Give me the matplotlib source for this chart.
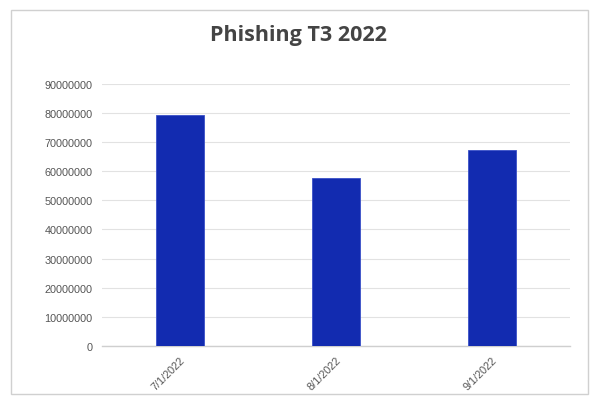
import matplotlib
matplotlib.use("Agg")
import matplotlib.pyplot as plt
from matplotlib.patches import Rectangle

months = ["7/1/2022", "8/1/2022", "9/1/2022"]
phishing = [79100000, 57600000, 67100000]
y_ticks = [0, 10000000, 20000000, 30000000, 40000000, 50000000,
           60000000, 70000000, 80000000, 90000000]

fig = plt.figure(figsize=(6, 4.02), dpi=100)
ax = fig.add_axes([0.17, 0.1368, 0.78, 0.6525])

# outer border of the chart card
fig.patches.append(Rectangle((11 / 600, 1 - 395 / 402), 577 / 600, 384 / 402,
                             transform=fig.transFigure, fill=False,
                             edgecolor="#d0d0d0", linewidth=1.0))

x = range(len(months))
ax.bar(x, phishing, width=0.314, color="#122bb0", edgecolor="#3a50c8", linewidth=0.6, zorder=3)

ax.set_xlim(-0.5, 2.5)
ax.set_ylim(0, 90000000)
ax.set_yticks(y_ticks)
ax.set_yticklabels([str(v) for v in y_ticks])
ax.set_xticks(list(x))
ax.set_xticklabels(months, rotation=45, ha="right", va="top", rotation_mode="anchor")

ax.grid(axis="y", color="#e2e2e2", linewidth=0.8, zorder=0)
for s in ["top", "right", "left"]:
    ax.spines[s].set_visible(False)
ax.spines["bottom"].set_color("#cfcfcf")
ax.spines["bottom"].set_linewidth(1.0)
ax.tick_params(axis="both", length=0, labelsize=7.8, labelcolor="#555555")
ax.tick_params(axis="y", pad=7)
ax.tick_params(axis="x", pad=6)
for lbl in ax.get_xticklabels() + ax.get_yticklabels():
    lbl.set_family("Liberation Sans")

fig.text(0.498, 1 - 35 / 402, "Phishing T3 2022", ha="center", va="center",
         fontsize=15.5, fontweight="bold", color="#444444", family="Open Sans")

fig.savefig("out.png", dpi=100)
